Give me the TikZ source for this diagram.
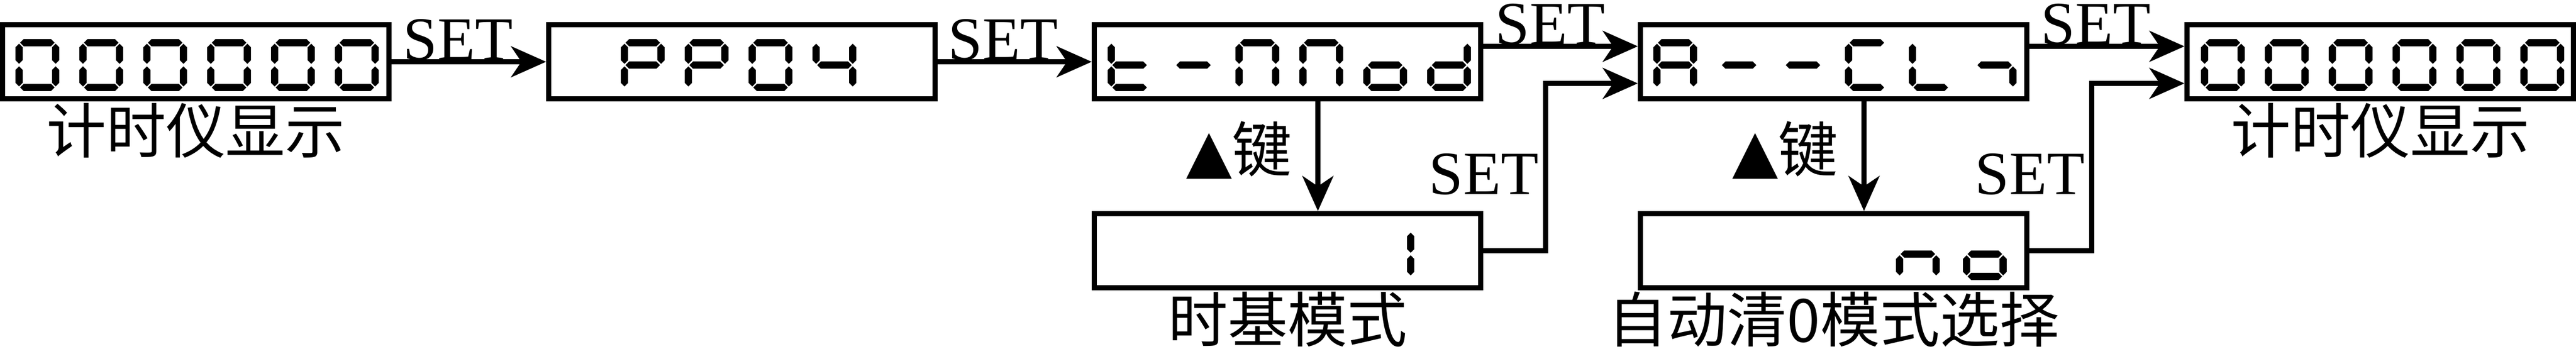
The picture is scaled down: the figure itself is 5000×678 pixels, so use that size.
\documentclass[tikz,border=0pt]{standalone}
\usepackage{fontspec}
\setmainfont{Liberation Serif}
\newfontfamily\cjk{Noto Sans CJK SC}
\newfontfamily\dejavu{DejaVu Sans}
\usepackage{tikz}
\usetikzlibrary{arrows.meta,positioning}

% LCD segments, one cell is 85 x 101 units
\newcommand\lcdh[3]{\fill (#1,#3) -- ++(7,-7) -- (#2-7,#3-7) -- (#2,#3) -- (#2-7,#3+7) -- (#1+7,#3+7) -- cycle;}
\newcommand\lcdv[3]{\fill (#1,#2) -- ++(7,7) -- (#1+7,#3-7) -- (#1,#3) -- (#1-7,#3-7) -- (#1-7,#2+7) -- cycle;}
\newcommand\lcdsega{\lcdh{9}{76}{7}}
\newcommand\lcdsegb{\lcdv{78}{9}{48}}
\newcommand\lcdsegc{\lcdv{78}{53}{92}}
\newcommand\lcdsegd{\lcdh{9}{76}{94}}
\newcommand\lcdsege{\lcdv{7}{53}{92}}
\newcommand\lcdsegf{\lcdv{7}{9}{48}}
\newcommand\lcdsegg{\lcdh{9}{76}{50.5}}
\newcommand\lcd[3]{\begin{scope}[shift={(#1,#2)}]\foreach \s in {#3}{\csname lcdseg\s\endcsname}\end{scope}}

\begin{document}
\begin{tikzpicture}[x=0.1mm,y=-0.1mm]
  \useasboundingbox (0,0) rectangle (5000,678);

  \tikzstyle{BoxStyle}=[draw,line width=1mm,minimum width=75mm,minimum height=14.4mm,inner sep=0pt]
  \tikzstyle{FlowStyle}=[line width=1mm,-{Stealth[length=6.8mm,width=6mm,inset=2mm]}]
  \tikzstyle{SetStyle}=[font=\fontsize{34pt}{34pt}\selectfont,inner sep=0pt,anchor=base west]
  \tikzstyle{NameStyle}=[font=\cjk\fontsize{33pt}{33pt}\selectfont,inner sep=0pt,anchor=base]

  \node[BoxStyle] (timer)    at (380,120)  {};
  \node[BoxStyle] (pp)       at (1440,120) {};
  \node[BoxStyle] (tmod)     at (2499,120) {};
  \node[BoxStyle] (tbase)    at (2499,487) {};
  \node[BoxStyle] (aclr)     at (3559,120) {};
  \node[BoxStyle] (aclrno)   at (3559,487) {};
  \node[BoxStyle] (timerend) at (4620,120) {};

  % display contents
  \foreach \k in {0,...,5} {\lcd{30+124*\k}{76}{a,b,c,d,e,f}}
  \lcd{1205}{76}{a,b,e,f,g}
  \lcd{1329}{76}{a,b,e,f,g}
  \lcd{1453}{76}{a,b,c,d,e,f}
  \lcd{1577}{76}{b,c,f,g}
  \lcd{2150}{76}{d,e,f,g}
  \lcd{2274}{76}{g}
  \lcd{2398}{76}{a,b,c,e,f}
  \lcd{2522}{76}{a,b,c,e,f}
  \lcd{2646}{76}{c,d,e,g}
  \lcd{2770}{76}{b,c,d,e,g}
  \lcd{2660}{443}{b,c}
  \lcd{3209}{76}{a,b,c,e,f,g}
  \lcd{3333}{76}{g}
  \lcd{3457}{76}{g}
  \lcd{3581}{76}{a,d,e,f}
  \lcd{3705}{76}{d,e,f}
  \lcd{3829}{76}{c,g}
  \lcd{3680}{443}{c,e,g}
  \lcd{3810}{443}{c,d,e,g}
  \foreach \k in {0,...,5} {\lcd{4272+124*\k}{76}{a,b,c,d,e,f}}

  % names
  \node[NameStyle] (ntimer)    at (380,298)  {计时仪显示};
  \node[NameStyle] (ntbase)    at (2499,664) {时基模式};
  \node[NameStyle] (naclr)     at (3559,664) {自动清0模式选择};
  \node[NameStyle] (ntimerend) at (4620,298) {计时仪显示};

  % connectors
  \coordinate (k1) at (3000,162);
  \coordinate (k2) at (4060,162);
  \draw[FlowStyle] (timer.east) -- (pp.west);
  \draw[FlowStyle] (pp.east) -- (tmod.west);
  \draw[FlowStyle] ([yshift=3mm]tmod.east) -- ([yshift=3mm]aclr.west);
  \draw[FlowStyle] ([xshift=5.9mm]tmod.south) -- ([xshift=5.9mm]tbase.north);
  \draw[FlowStyle] (tbase.east) -| (k1) -- (k1 -| aclr.west);
  \draw[FlowStyle] ([yshift=3mm]aclr.east) -- ([yshift=3mm]timerend.west);
  \draw[FlowStyle] ([xshift=5.9mm]aclr.south) -- ([xshift=5.9mm]aclrno.north);
  \draw[FlowStyle] (aclrno.east) -| (k2) -- (k2 -| timerend.west);

  % labels
  \node[SetStyle] (set1) at (782,117)  {SET};
  \node[SetStyle] (set2) at (1840,117) {SET};
  \node[SetStyle] (set3) at (2902,87)  {SET};
  \node[SetStyle] (set4) at (2773,377) {SET};
  \node[SetStyle] (set5) at (3961,87)  {SET};
  \node[SetStyle] (set6) at (3833,377) {SET};
  \node[NameStyle,anchor=base east] (key1) at (2508,334) {{\dejavu ▲}键};
  \node[NameStyle,anchor=base east] (key2) at (3568,334) {{\dejavu ▲}键};
\end{tikzpicture}
\end{document}
